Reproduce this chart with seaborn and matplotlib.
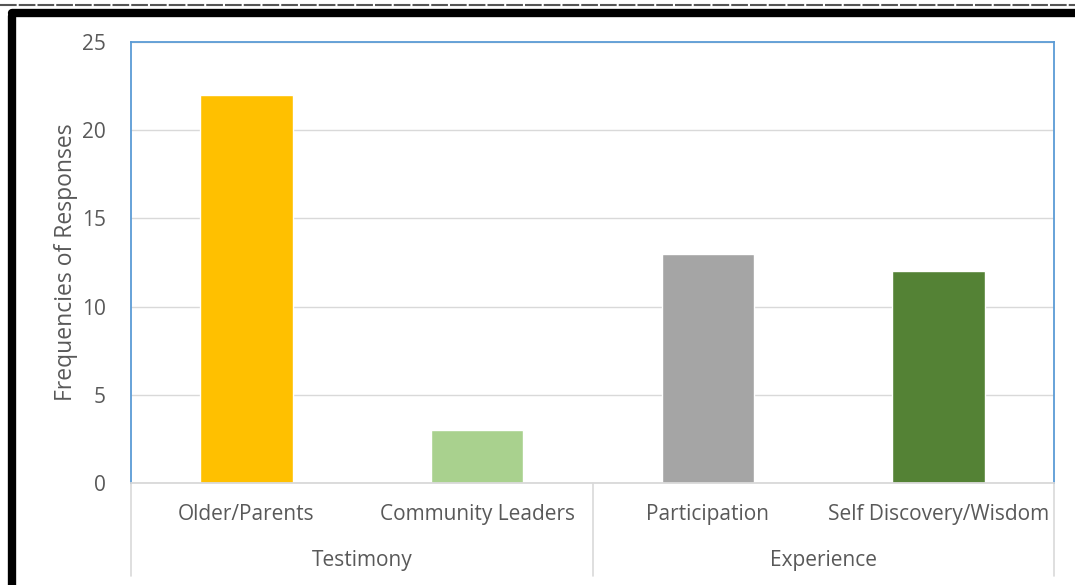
import pandas as pd
import numpy as np
import matplotlib.pyplot as plt
import seaborn as sns
from matplotlib.lines import Line2D

# data
categories = ['Older/Parents', 'Community Leaders', 'Participation', 'Self Discovery/Wisdom']
groups = ['Testimony', 'Experience']
group_sizes = [2, 2]
values = [22, 3, 13, 12]
colors = ['#FFC000', '#A9D18E', '#A5A5A5', '#548235']

df = pd.DataFrame({'cat': categories, 'val': values})

sns.set_theme(style='white')
plt.rcParams['font.family'] = ['Open Sans', 'DejaVu Sans']
txt = '#595959'

fig = plt.figure(figsize=(10.75, 5.85), dpi=100)
ax = fig.add_axes([131/1075, 1-483/585, 923/1075, 441/585])
sns.barplot(data=df, x='cat', y='val', hue='cat', palette=colors, width=0.4,
            legend=False, ax=ax, saturation=1)

ax.set_ylim(0, 25)
ax.set_xlim(-0.5, len(categories) - 0.5)
ax.set_yticks(range(0, 26, 5))
ax.yaxis.grid(True, color='#D9D9D9', linewidth=1)
ax.set_axisbelow(True)
ax.tick_params(axis='y', length=0, pad=18, labelsize=15, labelcolor=txt)
ax.tick_params(axis='x', length=0, pad=15, labelsize=15, labelcolor=txt)
ax.set_xlabel('')
ax.set_ylabel('Frequencies of Responses', fontsize=16.5, color=txt, labelpad=3)
for s in ax.spines.values():
    s.set_color('#5B9BD5')
    s.set_linewidth(1.3)
ax.spines['bottom'].set_color('#D9D9D9')

# group separators and labels under the axis
tr = ax.get_xaxis_transform()
edges = np.cumsum([0] + group_sizes) - 0.5
for e in edges:
    ax.plot([e, e], [0, -0.21], color='#D9D9D9', lw=1.2, transform=tr, clip_on=False)
for i, g in enumerate(groups):
    mid = (edges[i] + edges[i + 1]) / 2
    ax.text(mid, -0.175, g, transform=tr, ha='center', va='center', fontsize=15, color=txt)

# black frame and dashed top rule
fig.add_artist(Line2D([12/1075, 12/1075], [0, 1-16/585], color='black', lw=6, transform=fig.transFigure, solid_capstyle='round'))
fig.add_artist(Line2D([12/1075, 1], [1-13/585, 1-13/585], color='black', lw=6, transform=fig.transFigure, solid_capstyle='round'))
fig.add_artist(Line2D([0, 1], [1-5/585, 1-5/585], color='#555555', lw=1.5, ls=(0, (8, 1)), transform=fig.transFigure))

plt.savefig('out.png', dpi=100)
